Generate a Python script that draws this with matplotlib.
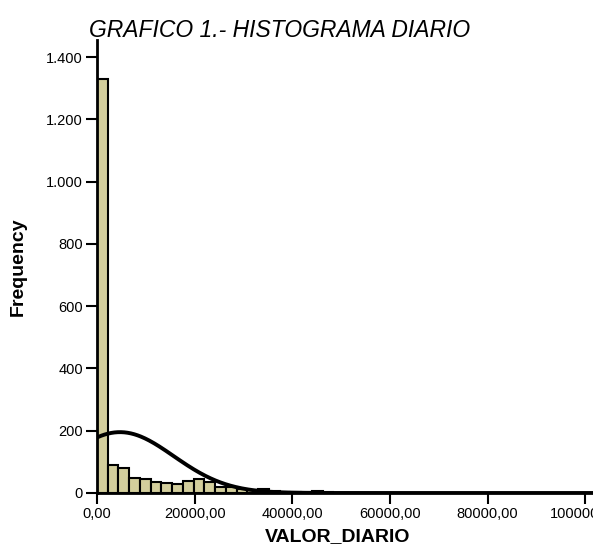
import numpy as np
import matplotlib.pyplot as plt
from matplotlib.ticker import FuncFormatter

plt.rcParams['font.family'] = ['Liberation Sans', 'DejaVu Sans']

# histogram of VALOR_DIARIO, bins of 2200
bin_width = 2200
counts = [1330, 89, 81, 49, 44, 36, 32, 30, 38, 44, 36, 20, 18, 12, 10, 12,
          8, 4, 3, 3, 5, 2, 1, 1, 0, 1, 0, 0, 1, 0, 0, 1, 0, 0, 0, 0, 0, 0,
          0, 0, 0, 0, 0, 0, 1]
# normal curve parameters
mean_val = 4700
std_val = 11000
n_total = 2450

x_ticks = [0, 20000, 40000, 60000, 80000, 100000]
y_ticks = [0, 200, 400, 600, 800, 1000, 1200, 1400]

fig = plt.figure(figsize=(5.93, 5.48), dpi=100)
ax = fig.add_axes([97 / 593, 55 / 548, 1 - 97 / 593, 453 / 548])

edges = np.arange(len(counts)) * bin_width
ax.bar(edges, counts, width=bin_width, align='edge', color='#d3ce9c',
       edgecolor='black', linewidth=1.5)

xs = np.linspace(0, 101600, 600)
curve = n_total * bin_width / (std_val * np.sqrt(2 * np.pi)) * np.exp(-0.5 * ((xs - mean_val) / std_val) ** 2)
ax.plot(xs, curve, color='black', linewidth=2.8)

ax.set_xlim(0, 101600)
ax.set_ylim(0, 1455)
ax.set_xticks(x_ticks)
ax.set_yticks(y_ticks)
ax.xaxis.set_major_formatter(FuncFormatter(lambda v, p: f'{v:.2f}'.replace('.', ',')))
ax.yaxis.set_major_formatter(FuncFormatter(lambda v, p: f'{int(v):,}'.replace(',', '.')))

for s in ['top', 'right']:
    ax.spines[s].set_visible(False)
for s in ['left', 'bottom']:
    ax.spines[s].set_linewidth(2)
ax.tick_params(length=8, width=1.5, labelsize=10.5, pad=2)

ax.set_xlabel('VALOR_DIARIO', fontsize=14, fontweight='bold')
ax.xaxis.set_label_coords(0.485, -0.077)
ax.set_ylabel('Frequency', fontsize=14, fontweight='bold', labelpad=14)
fig.text(0.472, 0.945, 'GRAFICO 1.- HISTOGRAMA DIARIO', fontsize=16.5,
         style='italic', ha='center', va='center')

plt.savefig('out.png', dpi=100)
